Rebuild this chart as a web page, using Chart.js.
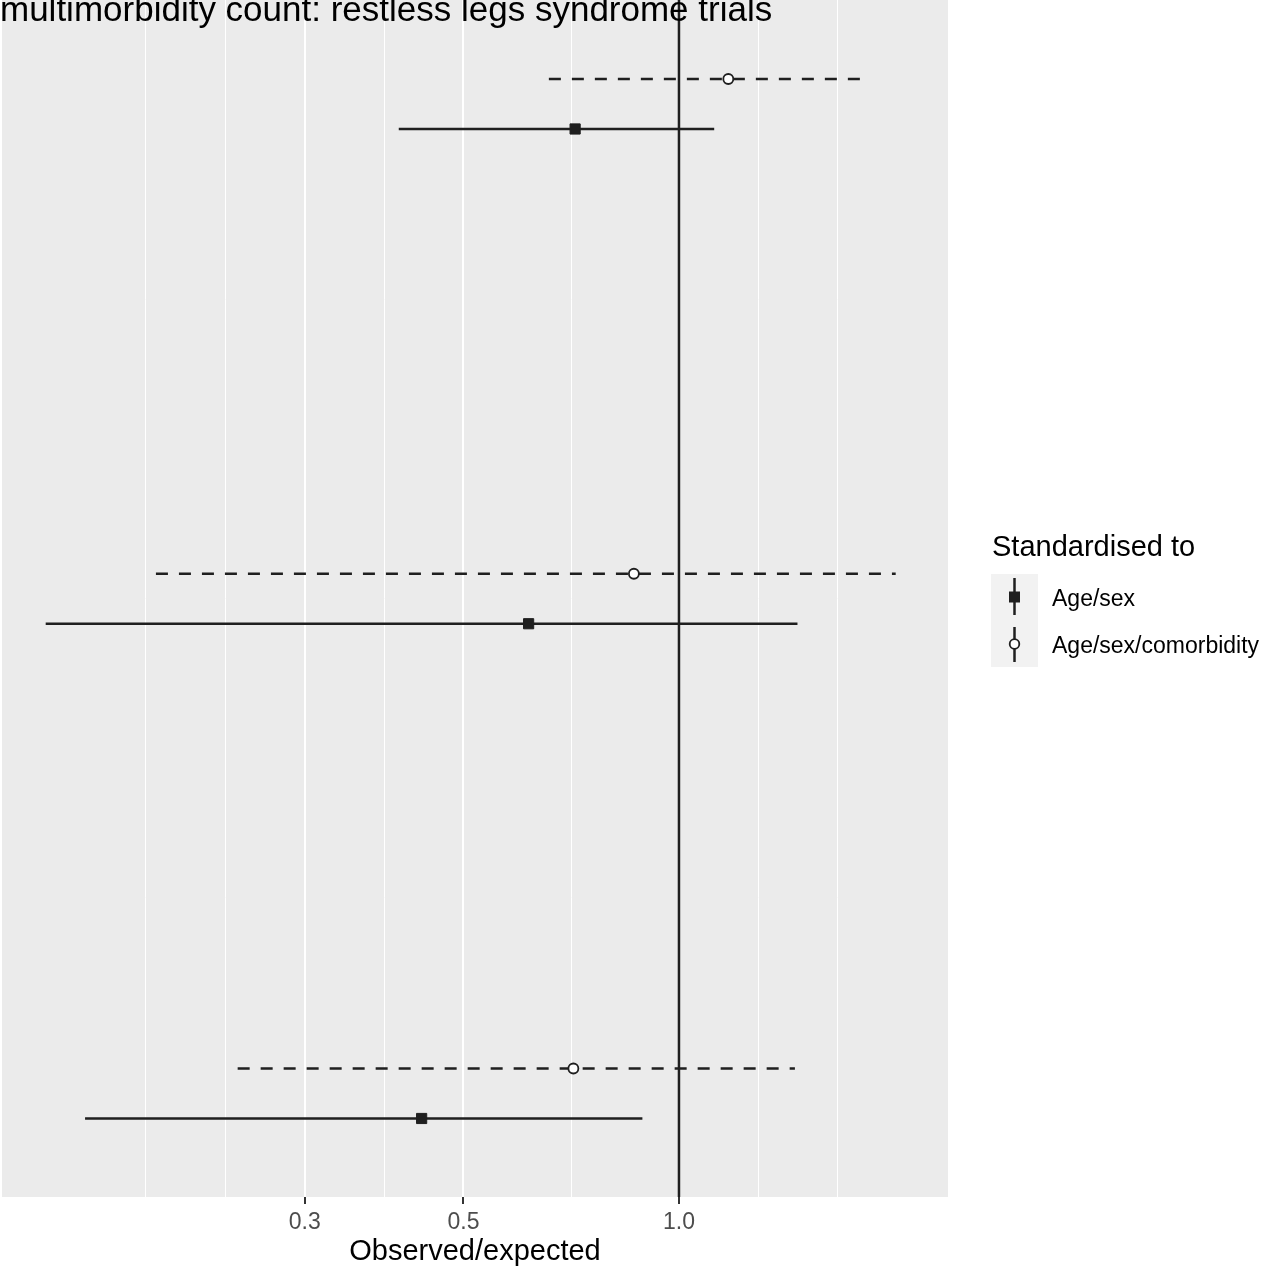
<!DOCTYPE html>
<html>
<head>
<meta charset="utf-8">
<script src="https://cdn.jsdelivr.net/npm/chart.js@4/dist/chart.umd.min.js"></script>
<style>
html,body{margin:0;padding:0;background:#fff;}
#wrap{width:1270px;height:1270px;position:relative;}
</style>
</head>
<body>
<div id="wrap"><canvas id="c" width="1270" height="1270"></canvas></div>
<script>
// ---- data ----
const groupPos = [1, 2, 3];
const ageSexEst = [0.716, 0.6165, 0.437];
const ageSexLo  = [0.406, 0.1304, 0.148];
const ageSexHi  = [1.120, 1.464, 0.889];
const comorbEst = [1.172, 0.865, 0.712];
const comorbLo  = [0.658, 0.1859, 0.2418];
const comorbHi  = [1.844, 2.008, 1.452];
const majorBreaks = [0.3, 0.5, 1.0];
const minorBreaks = [0.18, 0.2324, 0.3873, 0.7071, 1.291, 1.6667];
const refValue = 1.0;
const seriesNames = ['Age/sex', 'Age/sex/comorbidity'];
const titleText = 'multimorbidity count: restless legs syndrome trials';
const legendTitle = 'Standardised to';
const xTitle = 'Observed/expected';

// ---- layout constants ----
const FONT = '"Liberation Sans", Arial, sans-serif';
const INK = '#1f1f1f';
const xMin = 0.1133, xMax = 2.376;
const yMin = 0.7898, yMax = 3.2092;
const dodge = 0.0505;

function rangeData(lo, hi, off) {
  const out = [];
  groupPos.forEach((g, i) => {
    out.push({x: lo[i], y: g + off});
    out.push({x: hi[i], y: g + off});
    out.push({x: null, y: null});
  });
  return out;
}
function pointData(est, off) {
  return groupPos.map((g, i) => ({x: est[i], y: g + off}));
}
const allBreaks = majorBreaks.concat(minorBreaks).sort((a, b) => a - b);
const isMajor = v => majorBreaks.some(m => Math.abs(m - v) < 1e-9);

const bgPlugin = {
  id: 'bg',
  beforeDraw(chart) {
    const {ctx, chartArea: a} = chart;
    ctx.save();
    ctx.fillStyle = '#ffffff';
    ctx.fillRect(0, 0, chart.width, chart.height);
    ctx.fillStyle = '#EBEBEB';
    ctx.fillRect(a.left, a.top, a.right - a.left, a.bottom - a.top);
    ctx.restore();
  },
  afterDraw(chart) {
    const ctx = chart.ctx;
    ctx.save();
    // title (partly cut off at the top, as in the reference)
    ctx.fillStyle = '#000000';
    ctx.font = '35px ' + FONT;
    ctx.textBaseline = 'alphabetic';
    ctx.textAlign = 'left';
    ctx.fillText(titleText, 0, 21);
    // legend
    ctx.font = '29px ' + FONT;
    ctx.fillText(legendTitle, 992, 556);
    ctx.fillStyle = '#F2F2F2';
    ctx.fillRect(991, 574, 47, 93);
    const kx = 1014.5;
    ctx.strokeStyle = INK;
    ctx.lineWidth = 2.5;
    // key 1
    ctx.beginPath(); ctx.moveTo(kx, 578); ctx.lineTo(kx, 615); ctx.stroke();
    ctx.fillStyle = INK;
    ctx.fillRect(kx - 5.5, 597 - 5.5, 11, 11);
    // key 2
    ctx.beginPath(); ctx.moveTo(kx, 627); ctx.lineTo(kx, 662); ctx.stroke();
    ctx.beginPath(); ctx.arc(kx, 644, 4.8, 0, Math.PI * 2);
    ctx.fillStyle = '#ffffff'; ctx.fill();
    ctx.lineWidth = 1.8; ctx.stroke();
    ctx.fillStyle = '#000000';
    ctx.font = '23px ' + FONT;
    ctx.fillText(seriesNames[0], 1052, 606);
    ctx.fillText(seriesNames[1], 1052, 653);
    ctx.restore();
  }
};

new Chart(document.getElementById('c'), {
  type: 'scatter',
  data: {
    datasets: [
      { label: seriesNames[0] + ' est', data: pointData(ageSexEst, dodge), showLine: false,
        pointStyle: 'rect', pointRadius: 7.2, pointBackgroundColor: INK, pointBorderColor: INK, pointBorderWidth: 1 },
      { label: seriesNames[1] + ' est', data: pointData(comorbEst, -dodge), showLine: false,
        pointStyle: 'circle', pointRadius: 5, pointBackgroundColor: '#ffffff', pointBorderColor: INK, pointBorderWidth: 1.8 },
      { label: seriesNames[0] + ' ci', data: rangeData(ageSexLo, ageSexHi, dodge), showLine: true, spanGaps: false,
        borderColor: INK, borderWidth: 2.6, pointRadius: 0, borderCapStyle: 'butt' },
      { label: seriesNames[1] + ' ci', data: rangeData(comorbLo, comorbHi, -dodge), showLine: true, spanGaps: false,
        borderColor: INK, borderWidth: 2.6, borderDash: [12, 11], pointRadius: 0, borderCapStyle: 'butt' },
      { label: 'ref', data: [{x: refValue, y: yMin}, {x: refValue, y: yMax}], showLine: true,
        borderColor: INK, borderWidth: 2.5, pointRadius: 0 }
    ]
  },
  options: {
    responsive: false,
    animation: false,
    devicePixelRatio: 1,
    layout: { autoPadding: false, padding: { left: 2, right: 322, top: 0, bottom: 0 } },
    plugins: { legend: { display: false }, tooltip: { enabled: false }, title: { display: false } },
    scales: {
      x: {
        type: 'logarithmic', min: xMin, max: xMax, position: 'bottom',
        afterBuildTicks: s => { s.ticks = allBreaks.map(v => ({ value: v })); },
        afterFit: s => { s.height = 73; },
        border: { display: false },
        grid: {
          color: '#FFFFFF',
          lineWidth: c => (c.tick && isMajor(c.tick.value)) ? 2 : 1,
          drawTicks: true, tickLength: 7, tickWidth: 2,
          tickColor: c => (c.tick && isMajor(c.tick.value)) ? '#333333' : 'rgba(0,0,0,0)'
        },
        ticks: {
          autoSkip: false, maxRotation: 0, minRotation: 0, padding: 5,
          color: '#4D4D4D', font: { family: FONT, size: 23 },
          callback: (v) => isMajor(v) ? Number(v).toFixed(1) : ''
        },
        title: { display: true, text: xTitle, color: '#000000', font: { family: FONT, size: 29 }, padding: { top: 0, bottom: 1 } }
      },
      y: {
        type: 'linear', min: yMin, max: yMax, reverse: true, display: false
      }
    }
  },
  plugins: [bgPlugin]
});
</script>
</body>
</html>
